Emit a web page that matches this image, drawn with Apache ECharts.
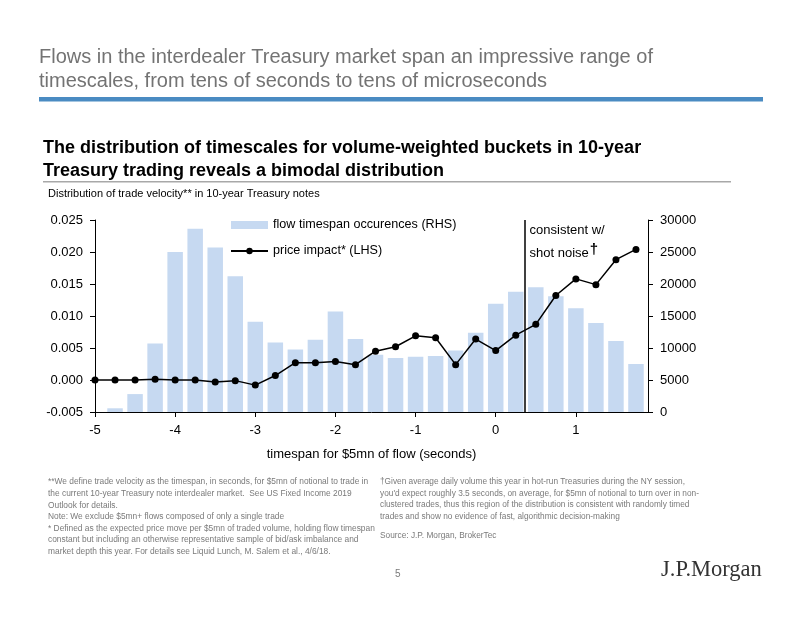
<!DOCTYPE html>
<html>
<head>
<meta charset="utf-8">
<script src="https://cdn.jsdelivr.net/npm/echarts@6/dist/echarts.min.js"></script>
<style>
  html, body { margin: 0; padding: 0; background: #fff; }
  #chart { width: 802px; height: 620px; }
</style>
</head>
<body>
<div id="chart"></div>
<script>
// ---- data ----
const barX = [-4.75, -4.5, -4.25, -4, -3.75, -3.5, -3.25, -3, -2.75, -2.5, -2.25, -2, -1.75, -1.5, -1.25, -1, -0.75, -0.5, -0.25, 0, 0.25, 0.5, 0.75, 1, 1.25, 1.5, 1.75];
const flowOccurrences = [580, 2800, 10700, 25000, 28650, 25700, 21200, 14100, 10850, 9750, 11300, 15700, 11400, 8950, 8450, 8650, 8750, 9600, 12400, 16900, 18800, 19500, 18100, 16200, 13900, 11100, 7500];
const lineX = [-5, -4.75, -4.5, -4.25, -4, -3.75, -3.5, -3.25, -3, -2.75, -2.5, -2.25, -2, -1.75, -1.5, -1.25, -1, -0.75, -0.5, -0.25, 0, 0.25, 0.5, 0.75, 1, 1.25, 1.5, 1.75];
const priceImpact = [0, 0, 0, 0.0001, 0, 0, -0.0003, -0.0001, -0.0008, 0.0007, 0.0027, 0.0027, 0.0029, 0.0024, 0.0045, 0.0052, 0.0069, 0.0066, 0.0024, 0.0064, 0.0046, 0.0070, 0.0087, 0.0132, 0.0158, 0.0149, 0.0188, 0.0204];
const xTicks = [-5, -4, -3, -2, -1, 0, 1];
const shotNoiseBoundary = 0.36;

const seriesNames = ['flow timespan occurences (RHS)', 'price impact* (LHS)'];

const titleLines = [
  'Flows in the interdealer Treasury market span an impressive range of',
  'timescales, from tens of seconds to tens of microseconds'
];
const subtitleLines = [
  'The distribution of timescales for volume-weighted buckets in 10-year',
  'Treasury trading reveals a bimodal distribution'
];
const chartCaption = 'Distribution of trade velocity** in 10-year Treasury notes';
const xAxisTitle = 'timespan for $5mn of flow (seconds)';
const leftNotes = [
  '**We define trade velocity as the timespan, in seconds, for $5mn of notional to trade in',
  'the current 10-year Treasury note interdealer market.  See US Fixed Income 2019',
  'Outlook for details.',
  'Note: We exclude $5mn+ flows composed of only a single trade',
  '* Defined as the expected price move per $5mn of traded volume, holding flow timespan',
  'constant but including an otherwise representative sample of bid/ask imbalance and',
  'market depth this year. For details see Liquid Lunch, M. Salem et al., 4/6/18.'
];
const rightNotes = [
  '\u2020Given average daily volume this year in hot-run Treasuries during the NY session,',
  'you\'d expect roughly 3.5 seconds, on average, for $5mn of notional to turn over in non-',
  'clustered trades, thus this region of the distribution is consistent with randomly timed',
  'trades and show no evidence of fast, algorithmic decision-making'
];
const sourceNote = 'Source: J.P. Morgan, BrokerTec';

// ---- chart ----
const FONT = "'Liberation Sans', Arial, sans-serif";
const chart = echarts.init(document.getElementById('chart'), null, { renderer: 'canvas' });

const graphics = [];
titleLines.forEach((t, i) => graphics.push({
  type: 'text', left: 39, top: 47 + i * 24,
  style: { text: t, font: '20px ' + FONT, fill: '#737373' }
}));
graphics.push({ type: 'rect', shape: { x: 39, y: 97, width: 724, height: 4.5 }, style: { fill: '#4a8bc2' } });
subtitleLines.forEach((t, i) => graphics.push({
  type: 'text', left: 43, top: 139 + i * 23,
  style: { text: t, font: 'bold 18px ' + FONT, fill: '#000' }
}));
graphics.push({ type: 'rect', shape: { x: 43, y: 181, width: 688, height: 1.5 }, style: { fill: '#a8a8a8' } });
graphics.push({ type: 'text', left: 48, top: 188, style: { text: chartCaption, font: '11px ' + FONT, fill: '#000' } });
leftNotes.forEach((t, i) => graphics.push({
  type: 'text', left: 48, top: 478 + i * 11.6,
  style: { text: t, font: '8.4px ' + FONT, fill: '#7a7a7a' }
}));
rightNotes.forEach((t, i) => graphics.push({
  type: 'text', left: 380, top: 478 + i * 11.6,
  style: { text: t, font: '8.3px ' + FONT, fill: '#7a7a7a' }
}));
graphics.push({ type: 'text', left: 380, top: 532, style: { text: sourceNote, font: '8.3px ' + FONT, fill: '#7a7a7a' } });
graphics.push({ type: 'text', left: 395, top: 569, style: { text: '5', font: '10px ' + FONT, fill: '#7a7a7a' } });
graphics.push({ type: 'text', left: 661, top: 559, style: { text: 'J.P.Morgan', font: '22.5px "Liberation Serif", "DejaVu Serif", serif', fill: '#333' } });

const option = {
  animation: false,
  backgroundColor: '#fff',
  textStyle: { fontFamily: FONT },
  grid: { left: 95, right: 154, top: 220, bottom: 208, containLabel: false },
  legend: {
    orient: 'vertical', left: 225, top: 213,
    itemWidth: 37, itemHeight: 8, itemGap: 12,
    textStyle: { fontSize: 12.6, color: '#000', fontFamily: FONT, lineHeight: 14 },
    data: [{ name: seriesNames[0], icon: 'rect' }, { name: seriesNames[1] }]
  },
  xAxis: {
    type: 'value', min: -5, max: 1.9, interval: 1,
    splitLine: { show: false },
    axisLine: { onZero: false, lineStyle: { color: '#000', width: 1 } },
    axisTick: { show: true, length: 5, inside: false, customValues: xTicks, lineStyle: { color: '#000' } },
    axisLabel: { customValues: xTicks, fontSize: 13, color: '#000', margin: 12, fontFamily: FONT },
    name: xAxisTitle, nameLocation: 'middle', nameGap: 36,
    nameTextStyle: { fontSize: 13, color: '#000', fontFamily: FONT }
  },
  yAxis: [
    {
      type: 'value', min: -0.005, max: 0.025, interval: 0.005, position: 'left',
      splitLine: { show: false },
      axisLine: { show: true, onZero: false, lineStyle: { color: '#000', width: 1 } },
      axisTick: { show: true, length: 5, lineStyle: { color: '#000' } },
      axisLabel: { fontSize: 13, color: '#000', margin: 12, fontFamily: FONT,
        formatter: v => (Math.round(v * 1000) / 1000).toFixed(3) }
    },
    {
      type: 'value', min: 0, max: 30000, interval: 5000, position: 'right',
      splitLine: { show: false },
      axisLine: { show: true, onZero: false, lineStyle: { color: '#000', width: 1 } },
      axisTick: { show: true, length: 5, lineStyle: { color: '#000' } },
      axisLabel: { fontSize: 13, color: '#000', margin: 12, fontFamily: FONT,
        formatter: v => String(Math.round(v)) }
    }
  ],
  series: [
    {
      name: seriesNames[0], type: 'bar', yAxisIndex: 1, barWidth: 15.5,
      itemStyle: { color: '#c6d9f1' },
      data: barX.map((x, i) => [x, flowOccurrences[i]]),
      z: 1
    },
    {
      name: seriesNames[1], type: 'line', yAxisIndex: 0,
      symbol: 'circle', symbolSize: 7,
      lineStyle: { color: '#000', width: 1.5 },
      itemStyle: { color: '#000' },
      data: lineX.map((x, i) => [x, priceImpact[i]]),
      z: 3,
      markLine: {
        silent: true, symbol: 'none', animation: false,
        label: { show: false },
        lineStyle: { color: '#000', width: 1.5, type: 'solid' },
        data: [{ xAxis: shotNoiseBoundary }]
      }
    }
  ],
  graphic: graphics
};
chart.setOption(option);

// annotation placed next to the shot-noise boundary using the chart's own scale
const p = chart.convertToPixel({ xAxisIndex: 0, yAxisIndex: 0 }, [shotNoiseBoundary, 0.025]);
chart.setOption({
  graphic: graphics.concat([{
    type: 'text', left: p[0] + 5, top: p[1] - 1,
    style: {
      text: 'consistent w/\n{n|shot noise}{d|\u2020}',
      font: '13px ' + FONT, fill: '#000', lineHeight: 23,
      rich: {
        n: { fontSize: 13, fontFamily: FONT, lineHeight: 23 },
        d: { fontSize: 15, fontWeight: 'bold', fontFamily: FONT, verticalAlign: 'top', padding: [0, 0, 8, 1] }
      }
    }
  }])
});
</script>
</body>
</html>
